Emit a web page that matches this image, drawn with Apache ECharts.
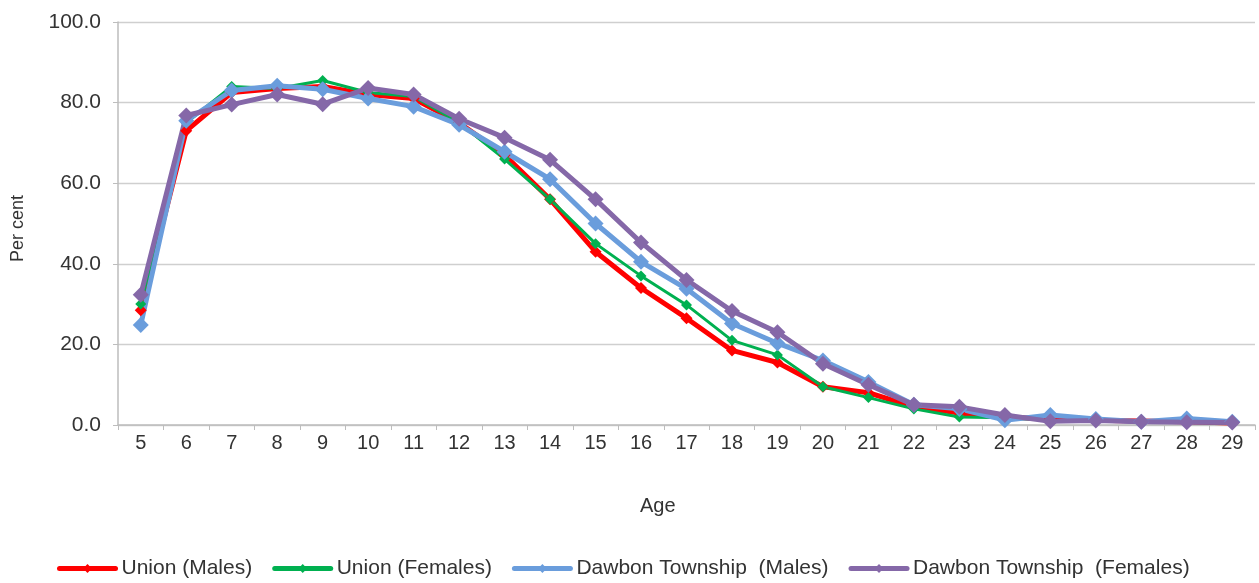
<!DOCTYPE html>
<html><head><meta charset="utf-8">
<script src="https://cdn.jsdelivr.net/npm/echarts@6/dist/echarts.min.js"></script>
<style>html,body{margin:0;padding:0;background:#fff}#c{width:1259px;height:583px}</style>
</head><body><div id="c"></div>
<script>
const ages = ['5','6','7','8','9','10','11','12','13','14','15','16','17','18','19','20','21','22','23','24','25','26','27','28','29'];
const unionMales = [28.5,73,82.5,83.5,84,82,81,75,67,56,43,34,26.5,18.5,15.5,9.5,8,4.5,3,2,1.5,1.2,1,0.8,0.5];
const unionFemales = [30,75,84,83.5,85.5,82.5,81.5,75,66,56,45,37,29.8,21,17.4,9.5,6.8,4,2,1.8,1.2,1,0.8,0.6,0.5];
const dawbonMales = [24.8,75.5,83,84.2,83.3,81,79,74.5,67.8,61,50,40.5,33.8,25.2,20.3,16,10.7,5,4,1.2,2.5,1.5,0.8,1.6,0.8];
const dawbonFemales = [32.3,76.8,79.5,82,79.6,83.6,82,76,71.3,65.8,56,45.3,36,28.3,23,15.2,10,5,4.5,2.5,0.9,1.1,0.8,0.7,0.6];
const seriesNames = ['Union (Males)','Union (Females)','Dawbon Township  (Males)','Dawbon Township  (Females)'];
const yTicks = {min:0, max:100, interval:20};

const chart = echarts.init(document.getElementById('c'));
const font = 'Liberation Sans, Arial, sans-serif';
const txt = '#333';
function s(name, data, color, lw, ms){
  return {name, type:'line', data, color, symbol:'diamond', symbolSize:ms,
    lineStyle:{width:lw, color}, itemStyle:{color}, animation:false};
}
chart.setOption({
  animation:false,
  grid:{left:118, right:4, top:22, bottom:158, containLabel:false},
  xAxis:{type:'category', data:ages, boundaryGap:true,
    axisLine:{lineStyle:{color:'#bdbdbd', width:1.5}},
    axisTick:{show:true, length:5, lineStyle:{color:'#bdbdbd'}},
    axisLabel:{fontFamily:font, fontSize:20, color:txt, margin:8}},
  yAxis:{type:'value', min:yTicks.min, max:yTicks.max, interval:yTicks.interval,
    axisLine:{show:true, lineStyle:{color:'#bdbdbd', width:1.5}},
    axisTick:{show:true, length:5, lineStyle:{color:'#bdbdbd'}},
    splitLine:{lineStyle:{color:'#cfcfcf', width:1.3}},
    axisLabel:{fontFamily:font, fontSize:21, color:txt, margin:17, formatter:v=>v.toFixed(1)}},
  graphic:[
    {type:'text', left:640, top:496, style:{text:'Age', font:'20px Liberation Sans, Arial, sans-serif', fill:txt}},
    {type:'text', x:9, y:262, rotation:Math.PI/2, style:{text:'Per cent', font:'18px Liberation Sans, Arial, sans-serif', fill:txt}}
  ],
  legend:{top:558, left:57, padding:0, itemWidth:56, itemHeight:11, itemGap:20,
    lineStyle:{width:5, cap:'round'},
    textStyle:{fontFamily:font, fontSize:21, color:txt, padding:[0,0,0,1]},
    data:seriesNames},
  series:[
    s(seriesNames[0], unionMales, '#ff0000', 5, 12),
    s(seriesNames[1], unionFemales, '#00b050', 3, 11),
    s(seriesNames[2], dawbonMales, '#6a9ddc', 5, 16),
    s(seriesNames[3], dawbonFemales, '#8568a8', 5, 16)
  ]
});
</script></body></html>
